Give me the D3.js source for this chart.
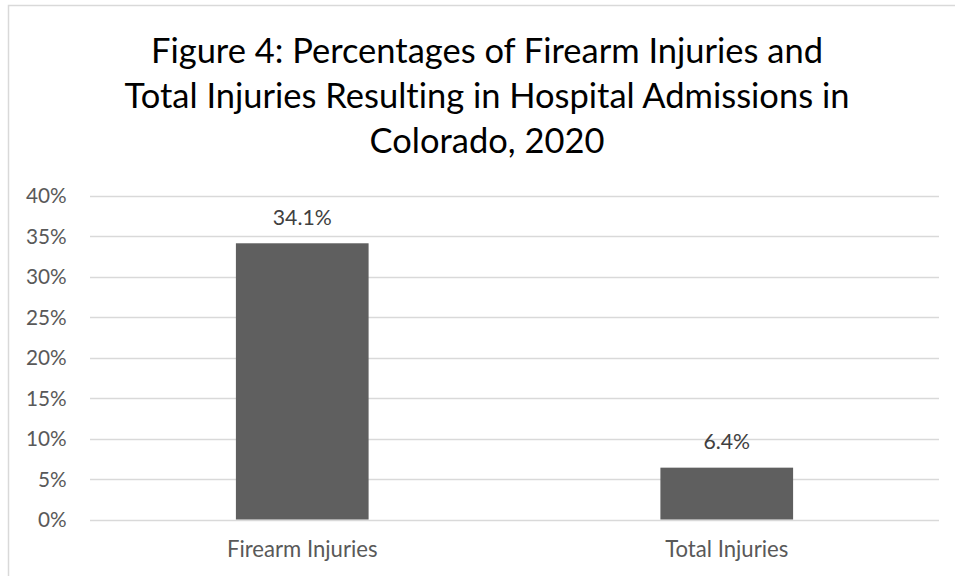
<!DOCTYPE html>
<html><head><meta charset="utf-8">
<script src="https://cdn.jsdelivr.net/npm/d3@7"></script>
<style>html,body{margin:0;padding:0;background:#fff;} svg{display:block;} text{font-variant-ligatures:none;font-feature-settings:"liga" 0;}</style>
</head><body>
<script>
const categories = ["Firearm Injuries", "Total Injuries"];
const values = [0.341, 0.064];
const valueLabels = ["34.1%", "6.4%"];
const tickValues = [0, 0.05, 0.10, 0.15, 0.20, 0.25, 0.30, 0.35, 0.40];
const titleLines = ["Figure 4: Percentages of Firearm Injuries and", "Total Injuries Resulting in Hospital Admissions in", "Colorado, 2020"];

const W = 955, H = 576;
const FONT = "Lato, 'Open Sans', sans-serif";
const svg = d3.select("body").append("svg").attr("width", W).attr("height", H);

svg.append("rect").attr("x", 8.5).attr("y", 5.5).attr("width", 1000).attr("height", 1000)
  .attr("fill", "#fff").attr("stroke", "#d9d9d9").attr("stroke-width", 1.5);

const x = d3.scaleBand().domain(categories).range([90, 939]);
const y = d3.scaleLinear().domain([0, 0.4]).range([519.5, 195.5]);
const barFrac = 0.3126;

function fitSize(sel, target, base) {
  sel.attr("font-size", base);
  const w = sel.node().getComputedTextLength();
  const s = base * target / w;
  sel.attr("font-size", s);
  return s;
}

// gridlines
svg.append("g").selectAll("line").data(tickValues).join("line")
  .attr("x1", 90).attr("x2", 939)
  .attr("y1", d => Math.round(y(d)) + 0.5).attr("y2", d => Math.round(y(d)) + 0.5)
  .attr("stroke", "#d9d9d9").attr("stroke-width", 1.3);

// y axis labels
const yAxis = svg.append("g").attr("transform", "translate(90,0)")
  .call(d3.axisLeft(y).tickValues(tickValues).tickFormat(d3.format(".0%")).tickSize(0).tickPadding(23.3));
yAxis.select(".domain").remove();
const yt = yAxis.selectAll("text").attr("fill", "#595959").attr("font-family", FONT).attr("dy", "0.34em");
const ts = fitSize(yAxis.selectAll("text").filter(d => d === 0.4), 40.7, 20);
yt.attr("font-size", ts);

// bars
svg.append("g").selectAll("rect").data(categories).join("rect")
  .attr("x", (d) => x(d) + x.bandwidth() * (1 - barFrac) / 2)
  .attr("width", x.bandwidth() * barFrac)
  .attr("y", (d, i) => y(values[i]))
  .attr("height", (d, i) => y(0) - y(values[i]))
  .attr("fill", "#5f5f5f");

// data labels
const dl = svg.append("g").selectAll("text").data(categories).join("text")
  .attr("x", d => x(d) + x.bandwidth() / 2)
  .attr("y", (d, i) => y(values[i]) - 18.5)
  .attr("text-anchor", "middle").attr("fill", "#404040").attr("font-family", FONT)
  .text((d, i) => valueLabels[i]);
const ds = fitSize(dl.filter((d, i) => i === 0), 59, 20);
dl.attr("font-size", ds);

// category labels
const cl = svg.append("g").selectAll("text").data(categories).join("text")
  .attr("x", d => x(d) + x.bandwidth() / 2)
  .attr("y", 556.5)
  .attr("text-anchor", "middle").attr("fill", "#595959").attr("font-family", FONT)
  .text(d => d);
const cs = fitSize(cl.filter((d, i) => i === 0), 150.7, 20);
cl.attr("font-size", cs);

// title
const tl = svg.append("g").selectAll("text").data(titleLines).join("text")
  .attr("x", 487).attr("y", (d, i) => 62.7 + i * 45)
  .attr("text-anchor", "middle").attr("fill", "#000").attr("font-family", FONT)
  .text(d => d);
const tsz = fitSize(tl.filter((d, i) => i === 1), 725, 36);
tl.attr("font-size", tsz);
</script>
</body></html>
